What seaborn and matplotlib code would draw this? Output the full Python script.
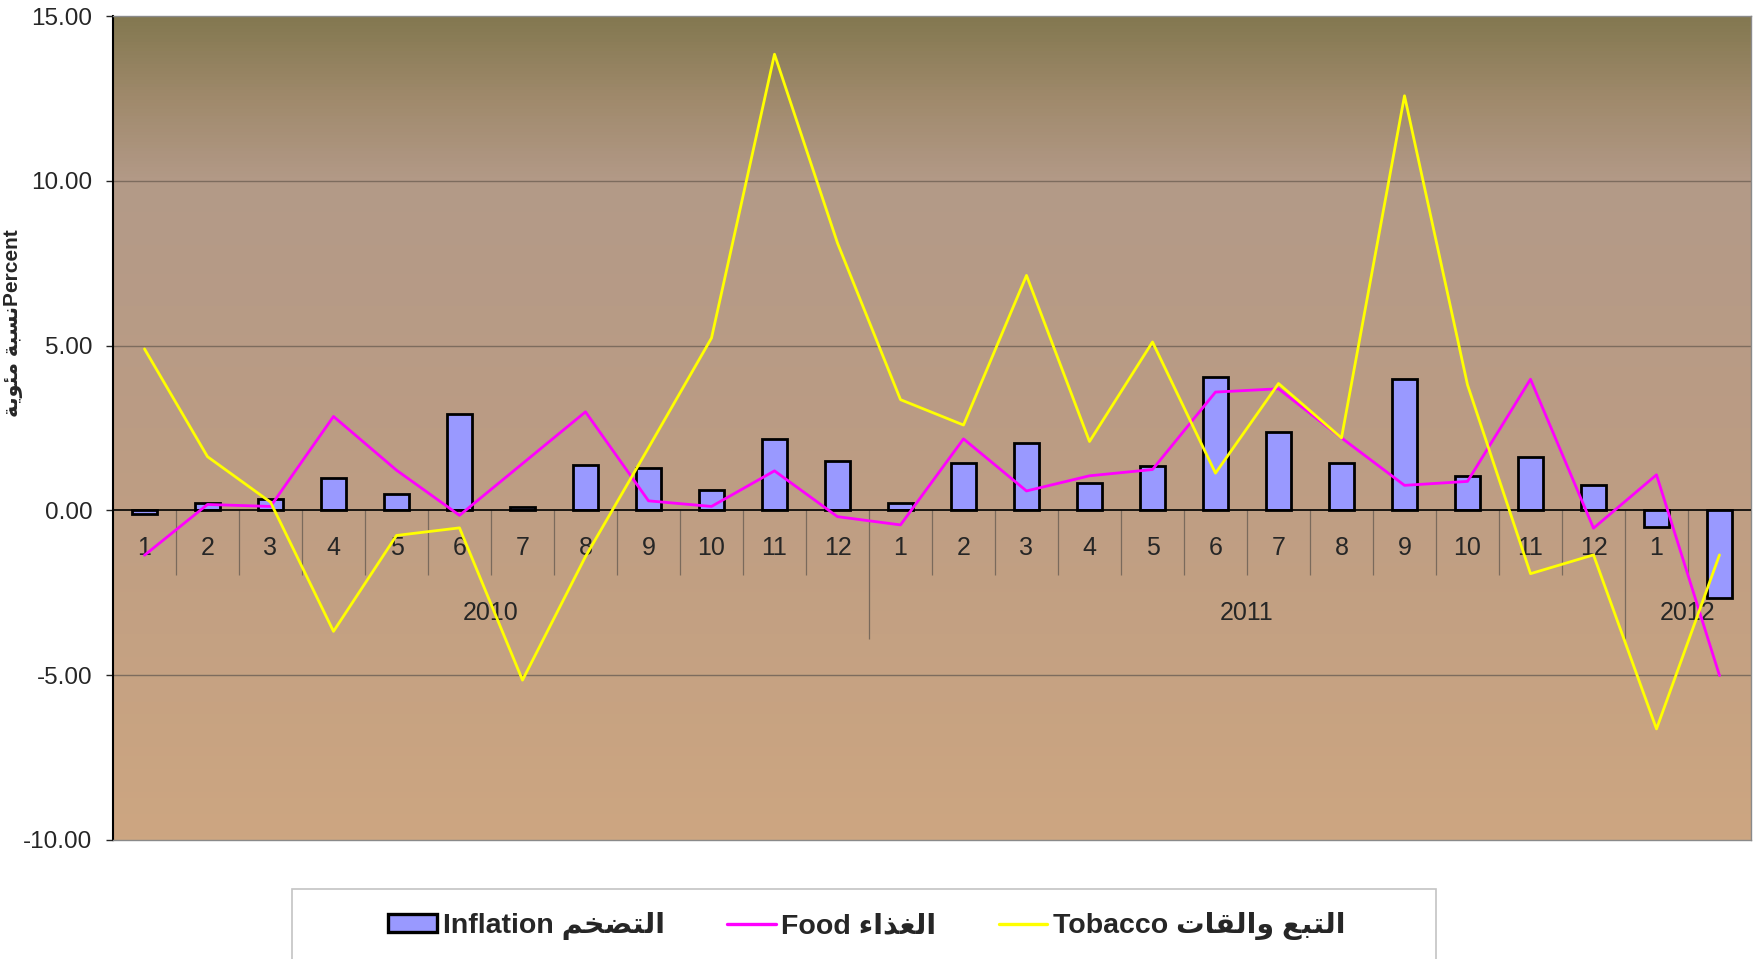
import numpy as np
import pandas as pd
import seaborn as sns
import matplotlib.pyplot as plt
from matplotlib.patches import Patch, Rectangle
from matplotlib.lines import Line2D
from matplotlib.colors import LinearSegmentedColormap

# monthly figures, Jan 2010 - Feb 2012 (percent)
months = [1, 2, 3, 4, 5, 6, 7, 8, 9, 10, 11, 12,
          1, 2, 3, 4, 5, 6, 7, 8, 9, 10, 11, 12,
          1, 2]
years = ["2010"] * 12 + ["2011"] * 12 + ["2012"] * 2
inflation = [-0.12, 0.23, 0.35, 0.98, 0.51, 2.91, 0.09, 1.38, 1.30, 0.61, 2.17, 1.51,
             0.23, 1.43, 2.05, 0.82, 1.36, 4.05, 2.39, 1.43, 3.98, 1.04, 1.61, 0.76,
             -0.50, -2.65]
food = [-1.36, 0.18, 0.12, 2.85, 1.22, -0.15, 1.42, 2.99, 0.29, 0.12, 1.20, -0.19,
        -0.44, 2.17, 0.59, 1.05, 1.24, 3.59, 3.69, 2.20, 0.76, 0.88, 3.98, -0.54,
        1.08, -5.01]
tobacco = [4.90, 1.63, 0.25, -3.67, -0.76, -0.53, -5.15, -1.40, 1.90, 5.23, 13.84, 8.11,
           3.36, 2.59, 7.13, 2.09, 5.11, 1.13, 3.85, 2.20, 12.58, 3.81, -1.92, -1.35,
           -6.63, -1.35]
y_ticks = [-10, -5, 0, 5, 10, 15]

# Arabic presentation forms (iso, final, initial, medial) - matplotlib does no shaping
FORMS = {
    "ا": ("\uFE8D", "\uFE8E", None, None),
    "ب": ("\uFE8F", "\uFE90", "\uFE91", "\uFE92"),
    "ة": ("\uFE93", "\uFE94", None, None),
    "ت": ("\uFE95", "\uFE96", "\uFE97", "\uFE98"),
    "خ": ("\uFEA5", "\uFEA6", "\uFEA7", "\uFEA8"),
    "ذ": ("\uFEAB", "\uFEAC", None, None),
    "س": ("\uFEB1", "\uFEB2", "\uFEB3", "\uFEB4"),
    "ض": ("\uFEBD", "\uFEBE", "\uFEBF", "\uFEC0"),
    "ع": ("\uFEC9", "\uFECA", "\uFECB", "\uFECC"),
    "غ": ("\uFECD", "\uFECE", "\uFECF", "\uFED0"),
    "ق": ("\uFED5", "\uFED6", "\uFED7", "\uFED8"),
    "ل": ("\uFEDD", "\uFEDE", "\uFEDF", "\uFEE0"),
    "م": ("\uFEE1", "\uFEE2", "\uFEE3", "\uFEE4"),
    "ن": ("\uFEE5", "\uFEE6", "\uFEE7", "\uFEE8"),
    "و": ("\uFEED", "\uFEEE", None, None),
    "ي": ("\uFEF1", "\uFEF2", "\uFEF3", "\uFEF4"),
    "ئ": ("\uFE89", "\uFE8A", "\uFE8B", "\uFE8C"),
    "ء": ("\uFE80", None, None, None),
}


def ar(text):
    out = []
    for i, c in enumerate(text):
        if c not in FORMS:
            out.append(c)
            continue
        f = FORMS[c]
        p = text[i - 1] if i > 0 else ""
        n = text[i + 1] if i + 1 < len(text) else ""
        jp = p in FORMS and FORMS[p][2] is not None
        jn = f[2] is not None and n in FORMS and FORMS[n][1] is not None
        if jp and jn:
            out.append(f[3])
        elif jp:
            out.append(f[1])
        elif jn:
            out.append(f[2])
        else:
            out.append(f[0])
    return "".join(reversed(out))


df = pd.DataFrame({
    "period": [f"{y}-{m:02d}" for y, m in zip(years, months)],
    "pos": np.arange(len(months)),
    "inflation": inflation,
    "food": food,
    "tobacco": tobacco,
})

sns.set_style("white")
plt.rcParams["font.family"] = ["Liberation Sans", "DejaVu Sans"]
bold_fam = ["Liberation Sans", "DejaVu Sans Condensed", "DejaVu Sans"]

fig = plt.figure(figsize=(17.54, 9.59), dpi=100)
ax = fig.add_axes([113 / 1754, 1 - 840 / 959, 1638 / 1754, 824 / 959])

# gradient background of the plot area
grad_cmap = LinearSegmentedColormap.from_list(
    "bg", [(0.0, "#cda681"), (0.5, "#bb9c84"), (0.8, "#b39a88"),
           (0.9, "#a08a6c"), (1.0, "#837850")])
ax.imshow(np.linspace(0, 1, 256).reshape(-1, 1), cmap=grad_cmap, origin="lower",
          extent=[0, 1, 0, 1], transform=ax.transAxes, aspect="auto", zorder=0)

for v in [-5, 5, 10]:
    ax.axhline(v, color="#7d6c5e", lw=1.0, zorder=1)

sns.barplot(data=df, x="period", y="inflation", color="#9999FF", saturation=1,
            edgecolor="black", linewidth=2.0, width=0.4, ax=ax, zorder=3)
sns.lineplot(data=df, x="pos", y="food", color="#FF00FF", lw=2.0, ax=ax, zorder=4)
sns.lineplot(data=df, x="pos", y="tobacco", color="#FFFF00", lw=2.0, ax=ax, zorder=4)

ax.axhline(0, color="black", lw=1.2, zorder=3.5)

# category axis drawn at zero: month labels, separators, year labels
n = len(months)
bounds = np.arange(n - 1) + 0.5
year_break = [years[i] != years[i + 1] for i in range(n - 1)]
lows = [-3.9 if b else -1.96 for b in year_break]
ax.vlines(bounds, lows, 0, color="#7a6a5c", lw=0.9, zorder=2)
for i, m in enumerate(months):
    ax.text(i, -1.15, str(m), ha="center", va="center", fontsize=18, zorder=2.5)
for y in dict.fromkeys(years):
    idx = [i for i, yy in enumerate(years) if yy == y]
    ax.text(np.mean(idx), -3.1, y, ha="center", va="center", fontsize=18, zorder=2.5)

ax.set_xlim(-0.5, n - 0.5)
ax.set_ylim(-10, 15)
ax.set_xticks([])
ax.set_xlabel("")
ax.set_yticks(y_ticks)
ax.set_yticklabels([f"{v:.2f}" for v in y_ticks], fontsize=17.5)
ax.tick_params(axis="y", direction="out", length=5, width=1, pad=10, left=True)
ax.set_ylabel(ar("نسبة مئوية") + "Percent", fontsize=15, fontweight="bold",
              family=bold_fam)
ax.yaxis.set_label_coords(-0.055, 0.627)

ax.spines["left"].set_color("black")
ax.spines["left"].set_linewidth(1.5)
for s in ["top", "right", "bottom"]:
    ax.spines[s].set_color("#8a8a8a")
    ax.spines[s].set_linewidth(1.0)

# legend, boxed like the original
handles = [
    Patch(facecolor="#9999FF", edgecolor="black", linewidth=2.4),
    Line2D([], [], color="#FF00FF", lw=2.4),
    Line2D([], [], color="#FFFF00", lw=2.4),
]
labels = ["Inflation " + ar("التضخم"), "Food " + ar("الغذاء"),
          "Tobacco " + ar("التبع والقات")]
fig.legend(handles, labels, loc="center", bbox_to_anchor=(0.4943, 0.0344),
           ncol=3, frameon=False,
           prop={"size": 20.5, "weight": "bold", "family": bold_fam},
           columnspacing=2.2, handlelength=1.7, handleheight=0.55,
           handletextpad=0.2)
fig.patches.append(Rectangle((292 / 1754, -0.01), 1144 / 1754, 70 / 959 + 0.01,
                             transform=fig.transFigure, fill=False,
                             edgecolor="#c4c4c4", lw=1.2))

fig.savefig("out.png", dpi=100)
